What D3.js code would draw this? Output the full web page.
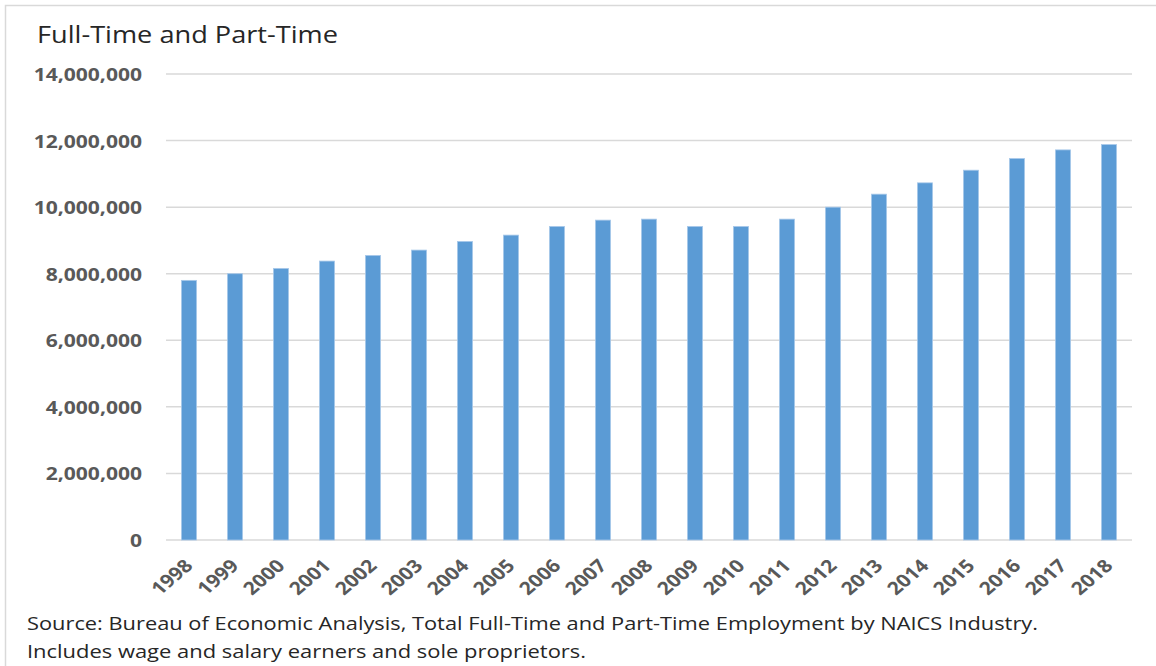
<!DOCTYPE html>
<html>
<head>
<meta charset="utf-8">
<script src="https://cdn.jsdelivr.net/npm/d3@7"></script>
<style>
  html, body { margin: 0; padding: 0; background: #fff; }
  svg { display: block; }
</style>
</head>
<body>
<svg id="chart" width="1156" height="666"></svg>
<script>
// Total full-time and part-time employment, 1998–2018
const years = ["1998","1999","2000","2001","2002","2003","2004","2005","2006","2007",
               "2008","2009","2010","2011","2012","2013","2014","2015","2016","2017","2018"];
const employment = [7800000, 8000000, 8160000, 8380000, 8550000, 8710000, 8970000, 9160000,
                    9420000, 9610000, 9640000, 9420000, 9420000, 9640000, 10000000, 10390000,
                    10730000, 11110000, 11460000, 11720000, 11880000];
const yTicks = [0, 2000000, 4000000, 6000000, 8000000, 10000000, 12000000, 14000000];

const svg = d3.select("#chart");
const W = 1156, H = 666;
const m = { left: 166, right: 1132, top: 74, bottom: 540 };
const labelFont = "'Open Sans', sans-serif";
const wide = 1.17;   // horizontal widening of the bold axis labels

// outer frame
svg.append("rect")
  .attr("x", 5.5).attr("y", 5.5)
  .attr("width", W + 10).attr("height", H + 10)
  .attr("fill", "none").attr("stroke", "#d9d9d9").attr("stroke-width", 1.5);

const x = d3.scaleBand().domain(years).range([m.left, m.right]).paddingInner(0.67).paddingOuter(0.335);
const y = d3.scaleLinear().domain([0, 14000000]).range([m.bottom, m.top]);

// gridlines
svg.append("g")
  .selectAll("line").data(yTicks).join("line")
  .attr("x1", m.left).attr("x2", m.right)
  .attr("y1", d => y(d)).attr("y2", d => y(d))
  .attr("stroke", "#d9d9d9").attr("stroke-width", 1.5);

// y axis labels
const yAxis = d3.axisLeft(y).tickValues(yTicks).tickSize(0).tickPadding(24)
  .tickFormat(d3.format(","));
svg.append("g")
  .attr("transform", `translate(${m.left},0)`)
  .call(yAxis)
  .call(g => g.select(".domain").remove())
  .call(g => g.selectAll("text")
    .attr("font-family", labelFont)
    .attr("font-weight", "bold")
    .attr("font-size", 18)
    .attr("fill", "#595959")
    .attr("dy", "0.36em")
    .each(function () {
      const len = this.getComputedTextLength();
      d3.select(this).attr("textLength", len * wide).attr("lengthAdjust", "spacingAndGlyphs");
    }));

// bars
svg.append("g")
  .selectAll("rect").data(employment).join("rect")
  .attr("x", (d, i) => x(years[i]))
  .attr("width", x.bandwidth())
  .attr("y", d => y(d))
  .attr("height", d => y(0) - y(d))
  .attr("fill", "#5b9bd5")
  .attr("stroke", "#a9c9ea").attr("stroke-width", 0.8);

// x axis labels, rotated
const xAxis = d3.axisBottom(x).tickSize(0).tickPadding(0);
svg.append("g")
  .attr("transform", `translate(0,${m.bottom})`)
  .call(xAxis)
  .call(g => g.select(".domain").remove())
  .call(g => g.selectAll("text")
    .attr("font-family", labelFont)
    .attr("font-weight", "bold")
    .attr("font-size", 18)
    .attr("fill", "#595959")
    .attr("text-anchor", "end")
    .attr("dy", 0)
    .attr("transform", `translate(5,27) scale(${wide},1) rotate(-45)`));

// title
svg.append("text")
  .attr("x", 37).attr("y", 43)
  .attr("font-family", labelFont)
  .attr("font-size", 23)
  .attr("fill", "#262626")
  .attr("textLength", 301).attr("lengthAdjust", "spacingAndGlyphs")
  .text("Full-Time and Part-Time");

// source note
svg.append("text")
  .attr("x", 27).attr("y", 630)
  .attr("font-family", labelFont)
  .attr("font-size", 17.5)
  .attr("fill", "#262626")
  .attr("textLength", 1011).attr("lengthAdjust", "spacingAndGlyphs")
  .text("Source: Bureau of Economic Analysis, Total Full-Time and Part-Time Employment by NAICS Industry.");
svg.append("text")
  .attr("x", 27).attr("y", 658)
  .attr("font-family", labelFont)
  .attr("font-size", 17.5)
  .attr("fill", "#262626")
  .attr("textLength", 559).attr("lengthAdjust", "spacingAndGlyphs")
  .text("Includes wage and salary earners and sole proprietors.");
</script>
</body>
</html>
